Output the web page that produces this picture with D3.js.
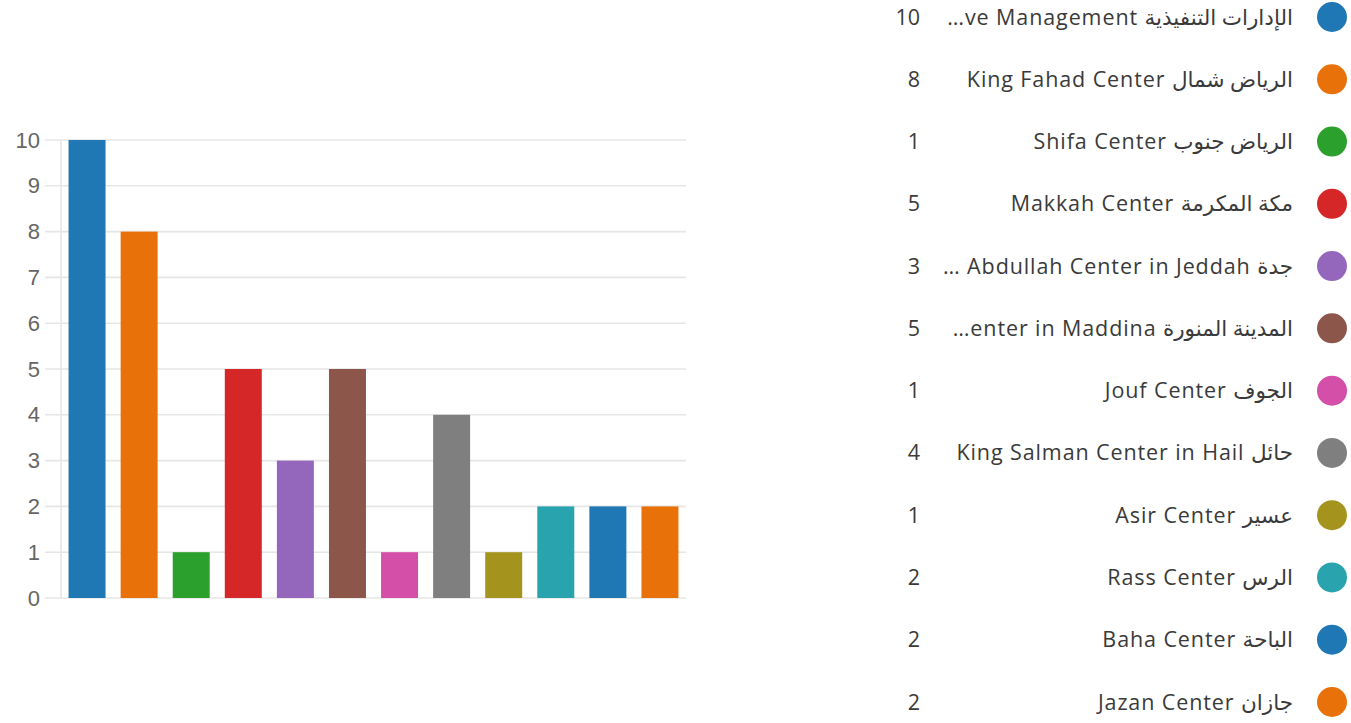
<!DOCTYPE html>
<html>
<head>
<meta charset="utf-8">
<script src="https://cdn.jsdelivr.net/npm/d3@7"></script>
<style>
  html, body { margin: 0; padding: 0; background: #fff; }
  svg { display: block; }
</style>
</head>
<body>
<svg id="chart" width="1351" height="723"></svg>
<script>
// ---- data ----
const categories = [
  "…ve Management الإدارات التنفيذية",
  "King Fahad Center الرياض شمال",
  "Shifa Center الرياض جنوب",
  "Makkah Center مكة المكرمة",
  "… Abdullah Center in Jeddah جدة",
  "…enter in Maddina المدينة المنورة",
  "Jouf Center الجوف",
  "King Salman Center in Hail حائل",
  "Asir Center عسير",
  "Rass Center الرس",
  "Baha Center الباحة",
  "Jazan Center جازان"
];
const values = [10, 8, 1, 5, 3, 5, 1, 4, 1, 2, 2, 2];
const colors = ["#1f77b4", "#e8710a", "#2ca02c", "#d62728", "#9467bd", "#8c564b",
                "#d44fa8", "#7f7f7f", "#a4941e", "#29a3ad", "#1f77b4", "#e8710a"];
const yTicks = [0, 1, 2, 3, 4, 5, 6, 7, 8, 9, 10];

// ---- chart ----
const svg = d3.select("#chart");
const plot = { left: 61, right: 686, top: 140, bottom: 598 };

const x = d3.scaleBand()
  .domain(d3.range(categories.length))
  .range([plot.left, plot.right])
  .paddingInner(0.29)
  .paddingOuter(0.145);

const y = d3.scaleLinear().domain([0, 10]).range([plot.bottom, plot.top]);

// gridlines
svg.append("g").selectAll("line").data(yTicks).join("line")
  .attr("x1", 45).attr("x2", plot.right)
  .attr("y1", d => y(d)).attr("y2", d => y(d))
  .attr("stroke", "#e6e6e6").attr("stroke-width", 1.6);

// left axis line
svg.append("line")
  .attr("x1", plot.left).attr("x2", plot.left)
  .attr("y1", plot.top).attr("y2", plot.bottom)
  .attr("stroke", "#e6e6e6").attr("stroke-width", 1.6);

// y axis labels
const yAxis = d3.axisLeft(y).tickValues(yTicks).tickSize(0).tickPadding(0);
const yg = svg.append("g").attr("transform", `translate(40,0)`).call(yAxis);
yg.select(".domain").remove();
yg.selectAll("text")
  .attr("font-family", "'Liberation Sans', Arial, sans-serif")
  .attr("font-size", 22)
  .attr("fill", "#666");

// bars
svg.append("g").selectAll("rect").data(values).join("rect")
  .attr("x", (d, i) => x(i))
  .attr("width", x.bandwidth())
  .attr("y", d => y(d))
  .attr("height", d => y(0) - y(d))
  .attr("fill", (d, i) => colors[i]);

// ---- legend ----
const rowY = d3.scaleLinear().domain([0, 11]).range([17, 702]);
const legend = svg.append("g")
  .attr("font-family", "'Open Sans', 'Noto Sans', 'DejaVu Sans', sans-serif")
  .attr("font-size", 21.5)
  .attr("fill", "#3a3a3a");

const rows = legend.selectAll("g").data(categories).join("g")
  .attr("transform", (d, i) => `translate(0,${rowY(i)})`);

rows.append("circle")
  .attr("cx", 1332).attr("cy", 0).attr("r", 15)
  .attr("fill", (d, i) => colors[i]);

rows.append("text")
  .attr("x", 1293).attr("y", 0)
  .attr("dy", "0.35em")
  .attr("text-anchor", "end")
  .attr("letter-spacing", 0.9)
  .text(d => d);

rows.append("text")
  .attr("x", 920).attr("y", 0)
  .attr("dy", "0.35em")
  .attr("text-anchor", "end")
  .text((d, i) => values[i]);
</script>
</body>
</html>
